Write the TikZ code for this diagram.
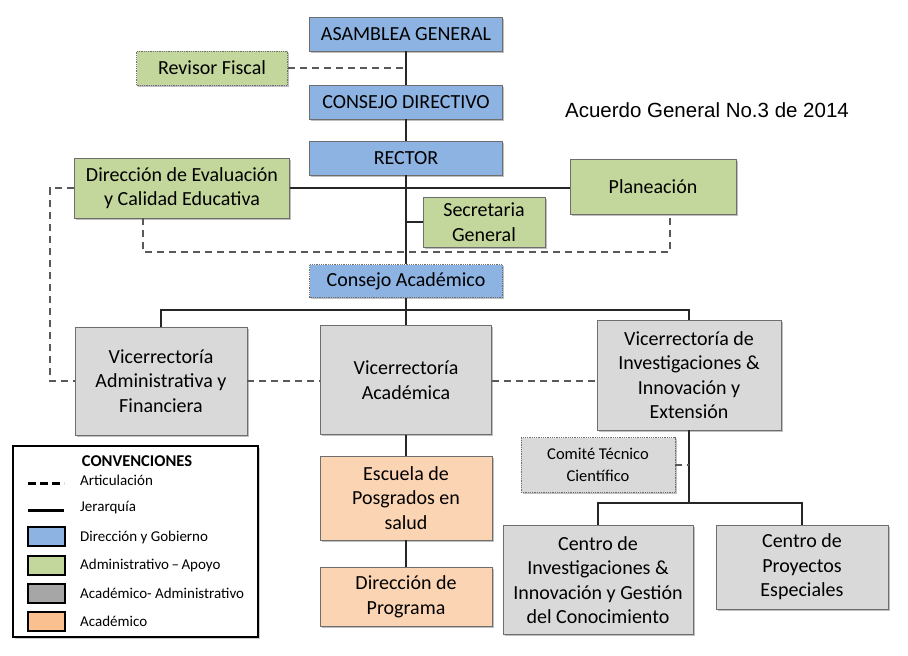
\documentclass[tikz,border=0pt]{standalone}
\usepackage{fontspec}
\setmainfont{Carlito}
\newfontfamily\arialf{Liberation Sans}
\usetikzlibrary{shadows}
\definecolor{blueF}{HTML}{8DB3E2}
\definecolor{greenF}{HTML}{C3D69B}
\definecolor{grayF}{HTML}{D9D9D9}
\definecolor{orangeF}{HTML}{FBD4B4}
\definecolor{grayL}{HTML}{A6A6A6}
\definecolor{orangeL}{HTML}{FAC090}
\definecolor{boxborder}{HTML}{6E6E6E}
\begin{document}
\begin{tikzpicture}[x=1pt,y=-1pt,
  box/.style={draw=boxborder, line width=0.8pt, align=center, inner sep=2pt,
    font=\fontsize{20}{24.5}\selectfont, text=black,
    drop shadow={shadow xshift=1.5pt, shadow yshift=-1.5pt, fill=black, opacity=0.25}},
  dotbox/.style={densely dotted},
  hier/.style={line width=2pt, draw=black!85},
  artic/.style={line width=2pt, dash pattern=on 7pt off 5pt, draw=black!65},
  legtext/.style={anchor=west, font=\fontsize{15}{18}\selectfont, inner sep=0pt},
  swatch/.style={draw=black, line width=1.8pt}
]
\useasboundingbox (0,0) rectangle (908,656);

% nodes
\node[box,fill=blueF,minimum width=193pt,minimum height=34pt] (asam) at (406,34) {ASAMBLEA GENERAL};
\node[box,dotbox,fill=greenF,minimum width=151pt,minimum height=34pt] (rev) at (212,68) {Revisor Fiscal};
\node[box,fill=blueF,minimum width=193pt,minimum height=34pt] (cdir) at (406,102) {CONSEJO DIRECTIVO};
\node[box,fill=blueF,minimum width=193pt,minimum height=34pt] (rector) at (406,158) {RECTOR};
\node[box,fill=greenF,minimum width=215pt,minimum height=60pt] (direv) at (182,188) {Dirección de Evaluación\\y Calidad Educativa};
\node[box,fill=greenF,minimum width=166pt,minimum height=55pt] (plan) at (653,187) {Planeación};
\node[box,fill=greenF,minimum width=122pt,minimum height=50pt] (sec) at (484,222) {Secretaria\\General};
\node[box,dotbox,fill=blueF,minimum width=193pt,minimum height=33pt] (cacad) at (406,281) {Consejo Académico};
\node[box,fill=grayF,minimum width=172pt,minimum height=108pt] (vadm) at (161,381) {Vicerrectoría\\Administrativa y\\Financiera};
\node[box,fill=grayF,minimum width=171pt,minimum height=109pt] (vacad) at (406,380) {Vicerrectoría\\Académica};
\node[box,fill=grayF,minimum width=184pt,minimum height=110pt] (vinv) at (689,375) {Vicerrectoría de\\Investigaciones \&\\Innovación y\\Extensión};
\node[box,fill=orangeF,minimum width=172pt,minimum height=84pt] (esc) at (406,498) {Escuela de\\Posgrados en\\salud};
\node[box,fill=orangeF,minimum width=172pt,minimum height=59pt] (dprog) at (406,597) {Dirección de\\Programa};
\node[box,dotbox,fill=grayF,minimum width=154pt,minimum height=55pt,font=\fontsize{16.5}{22}\selectfont] (com) at (598,465) {Comité Técnico\\Científico};
\node[box,fill=grayF,minimum width=190pt,minimum height=109pt] (cinv) at (598,580) {Centro de\\Investigaciones \&\\Innovación y Gestión\\del Conocimiento};
\node[box,fill=grayF,minimum width=172pt,minimum height=84pt] (cpe) at (802,567) {Centro de\\Proyectos\\Especiales};

\node[font=\arialf\fontsize{20.5}{24}\selectfont, inner sep=0pt] (title) at (707,110) {Acuerdo General No.3 de 2014};

% hierarchy connectors
\draw[hier] (asam.south) -- (cdir.north);
\draw[hier] (cdir.south) -- (rector.north);
\draw[hier] (rector.south) -- (cacad.north);
\draw[hier] (direv.east) -- (plan.west |- direv.east);
\draw[hier] (sec.west) -- (sec.west -| rector.south);
\coordinate (bus) at (406,310);
\draw[hier] (cacad.south) -- (bus);
\draw[hier] (vadm.north) |- (bus) -| (vinv.north);
\draw[hier] (bus) -- (vacad.north);
\draw[hier] (vacad.south) -- (esc.north);
\draw[hier] (esc.south) -- (dprog.north);
\coordinate (bus2) at (689,503);
\draw[hier] (vinv.south) -- (bus2);
\draw[hier] (cinv.north) |- (bus2) -| (cpe.north);

% articulation connectors
\draw[artic] (rev.east) -- (rev.east -| asam.south);
\coordinate (loop) at (406,252);
\draw[artic] ([xshift=-39pt]direv.south) |- (loop) -| ([xshift=17pt]plan.south);
\coordinate (left) at (50,300);
\draw[artic] (direv.west) -| (left) |- (vadm.west);
\draw[artic] (vadm.east) -- (vacad.west |- vadm.east);
\draw[artic] (vacad.east |- vadm.east) -- (vinv.west |- vadm.east);
\draw[artic] (com.east) -- (com.east -| vinv.south);

% legend
\node[draw=black, line width=1.8pt, minimum width=245pt, minimum height=191pt, inner sep=0pt,
  drop shadow={shadow xshift=1.5pt, shadow yshift=-1.5pt, fill=black, opacity=0.2}, fill=white] (leg) at (135.5,541.5) {};
\node[font=\bfseries\fontsize{16.5}{20}\selectfont, inner sep=0pt] (legtitle) at (137,461) {CONVENCIONES};
\draw[line width=3pt, dash pattern=on 8pt off 4pt] (28,483) -- (64,483);
\node[legtext] (l1) at (80,480) {Articulación};
\draw[line width=3pt] (28,510) -- (64,510);
\node[legtext] (l2) at (80,508) {Jerarquía};
\draw[swatch, fill=blueF] (28,527) rectangle (65,546);
\node[legtext] (l3) at (80,537) {Dirección y Gobierno};
\draw[swatch, fill=greenF] (28,556) rectangle (65,575);
\node[legtext] (l4) at (80,565) {Administrativo\,--\,Apoyo};
\draw[swatch, fill=grayL] (28,584) rectangle (65,603);
\node[legtext] (l5) at (80,593) {Académico- Administrativo};
\draw[swatch, fill=orangeL] (28,612) rectangle (65,631);
\node[legtext] (l6) at (80,621) {Académico};
\end{tikzpicture}
\end{document}
